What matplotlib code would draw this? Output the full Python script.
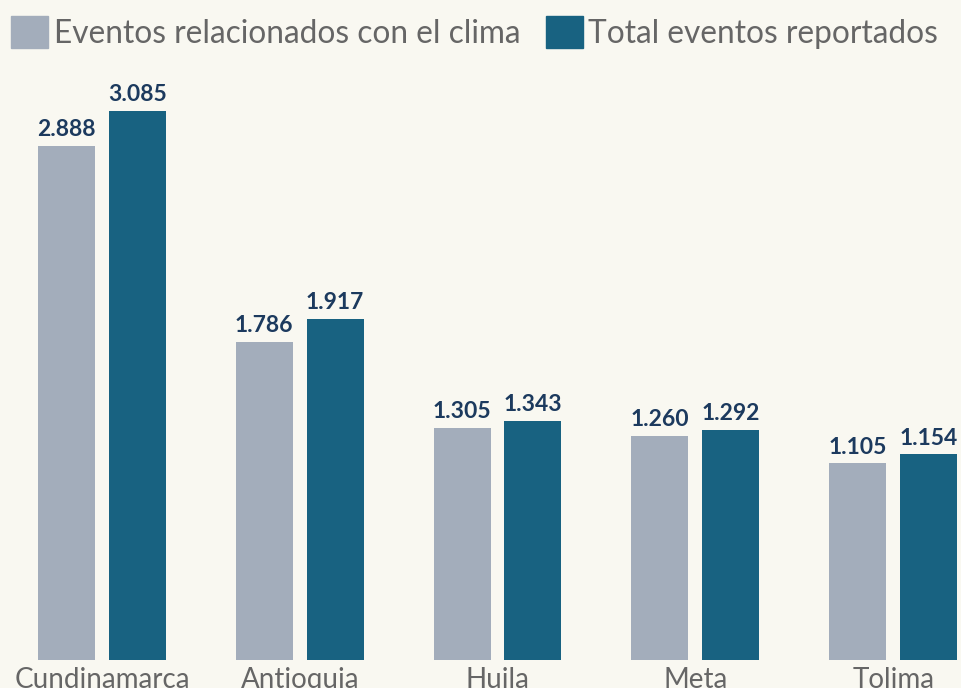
import matplotlib
matplotlib.use("Agg")
import matplotlib.pyplot as plt
from matplotlib.patches import Patch
import numpy as np

departamentos = ["Cundinamarca", "Antioquia", "Huila", "Meta", "Tolima"]
eventos_clima = [2888, 1786, 1305, 1260, 1105]
eventos_total = [3085, 1917, 1343, 1292, 1154]
series_names = ["Eventos relacionados con el clima", "Total eventos reportados"]

BG = "#f9f8f1"
C_CLIMA = "#a3adbb"
C_TOTAL = "#186281"
C_LABEL = "#1c3a5e"
C_TEXT = "#666666"

plt.rcParams["font.family"] = ["Lato", "DejaVu Sans"]

fig = plt.figure(figsize=(9.62, 6.88), dpi=100, facecolor=BG)
ax = fig.add_axes([0.0, 1 - 660 / 688, 1.0, (660 - 75) / 688])
ax.set_facecolor(BG)

x = np.arange(len(departamentos))
w = 0.288
off = 0.179

b1 = ax.bar(x - off, eventos_clima, width=w, color=C_CLIMA)
b2 = ax.bar(x + off, eventos_total, width=w, color=C_TOTAL)

def fmt(v):
    return f"{v:,}".replace(",", ".")

for bars, vals in ((b1, eventos_clima), (b2, eventos_total)):
    for rect, v in zip(bars, vals):
        ax.annotate(fmt(v), (rect.get_x() + rect.get_width() / 2, v),
                    xytext=(0, 4), textcoords="offset points",
                    ha="center", va="bottom", fontsize=16.5, fontweight="bold",
                    color=C_LABEL)

ax.set_xlim(-0.515, 4.348)
ax.set_ylim(0, (660 - 75) / 0.1781)
ax.set_xticks(x)
ax.set_xticklabels(departamentos, fontsize=20, color=C_TEXT)
ax.tick_params(axis="x", length=0, pad=5)
ax.set_yticks([])
for s in ax.spines.values():
    s.set_visible(False)

handles = [Patch(color=C_CLIMA), Patch(color=C_TOTAL)]
fig.legend(handles, series_names, loc="upper left",
           bbox_to_anchor=(11 / 962, 1 - 16 / 688),
           ncol=2, frameon=False, fontsize=22.8, labelcolor=C_TEXT,
           handlelength=1.17, handleheight=1.17, handletextpad=0.18,
           columnspacing=0.8, borderaxespad=0.0, borderpad=0.0)

fig.savefig("out.png", dpi=100, facecolor=BG)
